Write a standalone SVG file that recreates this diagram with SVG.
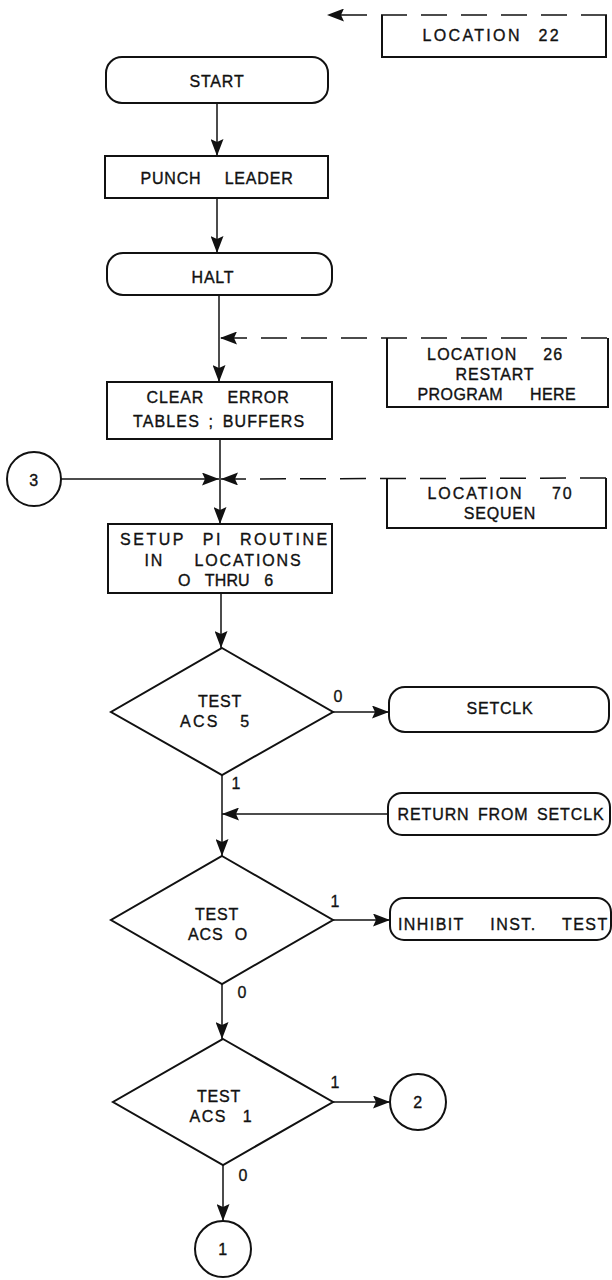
<svg xmlns="http://www.w3.org/2000/svg" width="612" height="1280" viewBox="0 0 612 1280">
  <defs>
    <marker id="arrow" markerUnits="userSpaceOnUse" markerWidth="18" markerHeight="13" refX="17" refY="6.5" orient="auto">
      <path d="M0,0 L17,6.5 L0,13 L3,6.5 Z" fill="#111"/>
    </marker>
    <style>
      .shape { fill: #fff; stroke: #111; stroke-width: 2; }
      .open { fill: none; stroke: #111; stroke-width: 2; }
      .link { fill: none; stroke: #111; stroke-width: 1.5; marker-end: url(#arrow); }
      .dash { stroke-dasharray: 26 14; }
      .t { font-family: "Liberation Sans", Arial, sans-serif; font-size: 16px; fill: #111; stroke: #111; stroke-width: 0.35px; text-anchor: middle; letter-spacing: 0.8px; }
      .lbl { font-family: "Liberation Sans", Arial, sans-serif; font-size: 16px; fill: #111; stroke: #111; stroke-width: 0.3px; text-anchor: middle; }
    </style>
  </defs>
  <rect width="612" height="1280" fill="#fff"/>

  <!-- connectors -->
  <g id="connectors">
    <line class="link dash" x1="607" y1="15" x2="327" y2="15"/>
    <line class="link" x1="217" y1="103" x2="217" y2="156"/>
    <line class="link" x1="217" y1="198" x2="217" y2="253"/>
    <line class="link" x1="219" y1="295" x2="219" y2="382"/>
    <line class="link dash" x1="607" y1="338" x2="220" y2="338"/>
    <line class="link" x1="220" y1="439" x2="220" y2="524"/>
    <line class="link" x1="61" y1="479" x2="219" y2="479"/>
    <line class="link dash" x1="606" y1="478" x2="221" y2="479"/>
    <line class="link" x1="221" y1="593" x2="221" y2="648"/>
    <line class="link" x1="333" y1="712" x2="389" y2="712"/>
    <line class="link" x1="222" y1="775" x2="222" y2="856"/>
    <line class="link" x1="388" y1="814" x2="222" y2="814"/>
    <line class="link" x1="333" y1="920" x2="390" y2="920"/>
    <line class="link" x1="222" y1="984" x2="222" y2="1039"/>
    <line class="link" x1="333" y1="1102" x2="390" y2="1102"/>
    <line class="link" x1="223" y1="1165" x2="223" y2="1221"/>
    <!-- branch labels -->
    <text class="lbl" x="338" y="702">0</text>
    <text class="lbl" x="236" y="789">1</text>
    <text class="lbl" x="335" y="907">1</text>
    <text class="lbl" x="242" y="998">0</text>
    <text class="lbl" x="335" y="1088">1</text>
    <text class="lbl" x="243" y="1181">0</text>
  </g>

  <g id="loc22">
    <path class="open" d="M382,15 V57 H606 V15"/>
    <text class="t" x="491" y="41" textLength="137" lengthAdjust="spacing" word-spacing="10">LOCATION 22</text>
  </g>

  <g id="start">
    <rect class="shape" x="106" y="57" width="222" height="46" rx="16"/>
    <text class="t" x="217" y="87">START</text>
  </g>

  <g id="punch-leader">
    <rect class="shape" x="105" y="156" width="223" height="42"/>
    <text class="t" x="217" y="184" textLength="153" lengthAdjust="spacing" word-spacing="18">PUNCH LEADER</text>
  </g>

  <g id="halt">
    <rect class="shape" x="107" y="253" width="225" height="42" rx="16"/>
    <text class="t" x="213" y="283">HALT</text>
  </g>

  <g id="loc26">
    <path class="open" d="M387,338 V407 H608 V338"/>
    <text class="t" x="495" y="360" textLength="136" lengthAdjust="spacing" word-spacing="20">LOCATION 26</text>
    <text class="t" x="495" y="380">RESTART</text>
    <text class="t" x="497" y="400" textLength="159" lengthAdjust="spacing" word-spacing="22">PROGRAM HERE</text>
  </g>

  <g id="clear-error">
    <rect class="shape" x="107" y="382" width="225" height="57"/>
    <text class="t" x="218" y="403" textLength="143" lengthAdjust="spacing" word-spacing="18">CLEAR ERROR</text>
    <text class="t" x="219" y="427" textLength="172" lengthAdjust="spacing" word-spacing="3">TABLES ; BUFFERS</text>
  </g>

  <g id="conn3">
    <circle class="shape" cx="34" cy="479" r="27"/>
    <text class="t" x="34" y="486">3</text>
  </g>

  <g id="loc70">
    <path class="open" d="M387,478 V528 H606 V478"/>
    <text class="t" x="500" y="499" textLength="145" lengthAdjust="spacing" word-spacing="22">LOCATION 70</text>
    <text class="t" x="500" y="519">SEQUEN</text>
  </g>

  <g id="setup-pi">
    <rect class="shape" x="108" y="524" width="224" height="69"/>
    <text class="t" x="224" y="545" textLength="208" lengthAdjust="spacing" word-spacing="10">SETUP PI ROUTINE</text>
    <text class="t" x="223" y="566" textLength="157" lengthAdjust="spacing" word-spacing="24">IN LOCATIONS</text>
    <text class="t" x="226" y="586" textLength="96" lengthAdjust="spacing" word-spacing="10">O THRU 6</text>
  </g>

  <g id="test-acs5">
    <polygon class="shape" points="222,648 333,712 222,775 111,712"/>
    <text class="t" x="220" y="707">TEST</text>
    <text class="t" x="215" y="727" textLength="70" lengthAdjust="spacing" word-spacing="14">ACS 5</text>
  </g>

  <g id="setclk">
    <rect class="shape" x="389" y="687" width="220" height="45" rx="16"/>
    <text class="t" x="500" y="714">SETCLK</text>
  </g>

  <g id="return-setclk">
    <rect class="shape" x="388" y="793" width="222" height="42" rx="14"/>
    <text class="t" x="501" y="820" textLength="207" lengthAdjust="spacing" word-spacing="3">RETURN FROM SETCLK</text>
  </g>

  <g id="test-acs0">
    <polygon class="shape" points="222,856 333,920 222,984 111,920"/>
    <text class="t" x="217" y="920">TEST</text>
    <text class="t" x="218" y="940" textLength="60" lengthAdjust="spacing" word-spacing="6">ACS O</text>
  </g>

  <g id="inhibit">
    <rect class="shape" x="390" y="898" width="221" height="42" rx="14"/>
    <text class="t" x="503" y="930" textLength="210" lengthAdjust="spacing" word-spacing="20">INHIBIT INST. TEST</text>
  </g>

  <g id="test-acs1">
    <polygon class="shape" points="223,1039 333,1102 223,1165 113,1102"/>
    <text class="t" x="219" y="1102">TEST</text>
    <text class="t" x="221" y="1122" textLength="63" lengthAdjust="spacing" word-spacing="10">ACS 1</text>
  </g>

  <g id="conn2">
    <circle class="shape" cx="418" cy="1102" r="28"/>
    <text class="t" x="418" y="1108">2</text>
  </g>

  <g id="conn1">
    <circle class="shape" cx="223" cy="1249" r="28"/>
    <text class="t" x="223" y="1255">1</text>
  </g>
</svg>
